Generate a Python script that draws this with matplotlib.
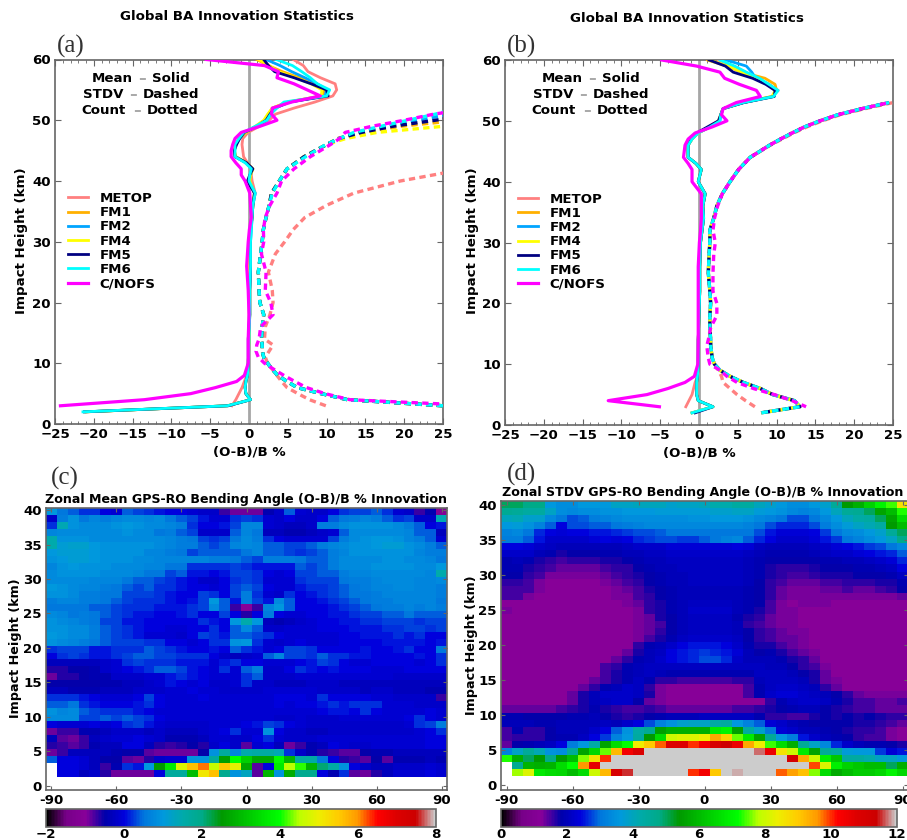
import numpy as np
import matplotlib
matplotlib.use('Agg')
import matplotlib.pyplot as plt
from matplotlib.ticker import MultipleLocator

nan = np.nan
W, H = 907, 840

names = ['METOP', 'FM1', 'FM2', 'FM4', 'FM5', 'FM6', 'C/NOFS']
colors = ['#ff8080', '#ffb000', '#00a5ff', '#ffff00', '#000080', '#00ffff', '#ff00ff']

mean_h = [2, 3, 4, 5, 6, 7, 8, 10, 14, 18, 22, 26, 30, 32, 34, 36, 38, 40, 41, 42, 43, 44, 45, 46, 47,
          48, 49, 50, 51, 52, 53, 54, 55, 56, 57, 58, 59, 60]
std_h = [2, 3, 4, 5, 6, 7, 8, 9, 10, 11, 12, 13, 14, 16, 18, 20, 22, 25, 28, 30, 32, 34, 36, 38, 40,
         42, 44, 46, 47, 48, 49, 50, 51, 52, 53]

# panel a, mean
a_metop = [nan, -2.2, -1.7, -1.3, -.9, -.6, -.3, -.1, 0, 0, 0, 0, .1, .2, .3, .5, .8, .4, .3, .3, -.2, -.7, -.8, -.9, -.8,
           -.1, 1.3, 2.6, 3.4, 5.8, 8.5, 10.8, 11.3, 11.1, 9.2, 7.6, 7.0, 5.7]
a_fm1 = [-21, -2.8, .2, -.4, -.5, -.4, -.2, -.1, 0, .1, .1, .2, .2, .2, .4, .5, .7, .1, .2, .5, -.3, -1.7, -1.9, -1.7, -1.3,
         -.4, .9, 2, 2.5, 3, 5, 9.4, 9.8, 8.5, 6.5, 4.3, 2.5, 1.0]
a_fm2 = [-21.2, -2.7, .2, -.4, -.5, -.4, -.2, -.1, 0, .1, .1, .2, .2, .3, .4, .5, .8, 0, .2, .4, -.4, -1.8, -1.9, -1.7, -1.2,
         -.5, 1, 2.3, 2.8, 3.4, 5.2, 9.8, 10, 8.8, 7.2, 5.5, 4, 2.2]
a_fm4 = [-21, -2.8, .2, -.4, -.5, -.4, -.2, -.1, 0, .1, .1, .1, .1, .2, .4, .5, .7, .1, .2, .5, -.3, -1.7, -1.9, -1.7, -1.3,
         -.4, .8, 1.9, 2.4, 3, 5, 9.3, 9.4, 8, 6, 3.8, 2.6, 1.2]
a_fm5 = [-21.2, -2.7, .2, -.4, -.5, -.4, -.2, -.1, -.1, .1, .1, .2, .2, .2, .4, .5, .7, -.2, .1, .5, -.3, -1.8, -1.9, -1.6, -1.2,
         -.6, 1, 2.2, 2.7, 3.3, 5.2, 10.2, 10, 8, 5.8, 3.3, 2.5, 1.9]
a_fm6 = [-21.4, -2.8, .2, -.4, -.5, -.4, -.2, -.1, 0, .1, .1, .2, .2, .3, .4, .5, .8, 0, .1, .3, -.5, -1.8, -1.8, -1.8, -1.3,
         -.7, .8, 2.3, 2.8, 3.6, 4.5, 10, 10.4, 8.8, 7.9, 6.8, 5.6, 3.5]
a_cnofs = [nan, -24.3, -13.5, -7.5, -4.3, -1.6, -.6, -.1, -.1, 0, -.1, -.3, -.1, .05, .3, .2, .1, -.5, -1, -1, -1.7, -2.3, -2.3, -2.1, -1.8,
           -1, 1.4, 3.6, 2.9, 3, 5.5, 9.2, 7.5, 5.8, 3.6, 3.8, 2, -5.5]

# panel a, stdv
a_s_metop = [nan, 9.9, 7.8, 6.3, 4.9, 4.2, 3.6, 3, 2.4, 2.1, 2.6, 3.1, 2, 2.1, 2.7, 3.1, 3, 2.5, 3.4, 4.6, 5.7, 7.2, 10, 13.5, 19.5,
             28, nan, nan, nan, nan, nan, nan, nan, nan, nan]
a_s_fm1 = [nan, 25, 12.7, 9.3, 6.2, 4.9, 3.7, 3, 2.4, 1.9, 1.7, 1.7, 1.6, 1.7, 1.9, 1.4, 1.3, 1.2, 1.5, 1.7, 1.85, 2.2, 2.6, 2.9, 3.9,
           4.9, 7.1, 10, 11.4, 14.3, 19.5, 27, nan, nan, nan]
a_s_fm2 = [nan, 25, 12.7, 9.3, 6.2, 4.9, 3.7, 3, 2.4, 1.9, 1.7, 1.7, 1.6, 1.7, 1.9, 1.4, 1.3, 1.2, 1.5, 1.7, 1.85, 2.2, 2.6, 2.9, 3.9,
           4.9, 7.1, 10, 11.6, 14, 17.5, 21.5, 26, nan, nan]
a_s_fm4 = [nan, 25, 12.7, 9.3, 6.2, 4.9, 3.7, 3, 2.4, 1.9, 1.7, 1.7, 1.6, 1.7, 1.9, 1.4, 1.3, 1.2, 1.5, 1.7, 1.85, 2.2, 2.6, 2.9, 3.9,
           4.9, 7.1, 10, 12.5, 16.5, 25, 30, nan, nan, nan]
a_s_fm5 = [nan, 25, 12.7, 9.3, 6.2, 4.9, 3.7, 3, 2.4, 1.9, 1.7, 1.7, 1.6, 1.7, 1.9, 1.4, 1.3, 1.2, 1.5, 1.7, 1.85, 2.2, 2.6, 2.9, 3.9,
           4.9, 7.1, 10, 11.6, 14.5, 18.5, 24, 29, nan, nan]
a_s_fm6 = [nan, 25, 12.7, 9.3, 6.2, 4.9, 3.7, 3, 2.4, 1.9, 1.7, 1.7, 1.6, 1.7, 1.9, 1.4, 1.3, 1.2, 1.5, 1.7, 1.85, 2.2, 2.6, 3, 3.9,
           4.9, 7.3, 9.9, 11.7, 13.5, 17, 20.5, 24, 27, nan]
a_s_cnofs = [nan, 30, 13, 9.8, 7.4, 5.9, 4.5, 3.2, 2, 1.2, .9, 1, 1.3, 1.5, 3.1, 2.8, 2.1, 2.2, 1.6, 1.9, 1.85, 2.1, 2.7, 3.6, 4.2,
             5.8, 7.9, 10.5, 11.7, 12.4, 15.8, 20, 23.8, 29, nan]

# panel b, mean
b_metop = [nan, -1.7, -1.3, -.9, -.7, -.5, -.2, -.1, -.1, 0, .1, .1, .2, .4, .6, .5, .8, -.1, .1, .3, -.4, -1.4, -1.4, -1.4, -.9,
           -.1, 1.2, 2.6, 2.8, 3.1, 5.7, 9.4, 10.2, 9, 7.6, 6, 4.4, 2.5]
b_fm1 = [-.9, 1.8, -.1, -.3, -.3, -.3, -.2, -.1, -.1, 0, .1, .1, .2, .4, .6, .5, .8, -.1, .1, .3, -.4, -1.4, -1.4, -1.4, -.9,
         -.1, 1.4, 2.6, 2.8, 3.1, 5.7, 9.5, 10, 9.8, 8.5, 5.5, 3.6, 1.1]
b_fm2 = [-.9, 1.8, -.1, -.3, -.3, -.3, -.2, -.1, -.1, 0, .1, .1, .2, .4, .6, .5, .8, -.1, .1, .3, -.4, -1.4, -1.4, -1.4, -.9,
         -.1, 1.4, 2.7, 2.8, 3.1, 5.7, 9.6, 10, 9, 7.3, 6.8, 6.1, 3.5]
b_fm4 = [-.9, 1.8, -.1, -.3, -.3, -.3, -.2, -.1, -.1, 0, .1, .1, .2, .4, .6, .5, .8, -.1, .1, .3, -.4, -1.4, -1.4, -1.4, -.9,
         -.1, 1.4, 2.5, 2.8, 3.1, 5.6, 9.4, 9.8, 8.8, 7.2, 5.5, 3.8, 1.3]
b_fm5 = [-.5, 1.8, -.1, -.3, -.3, -.3, -.2, -.1, -.1, 0, .1, .1, .2, .4, .6, .5, .8, -.1, .1, .3, -.4, -1.4, -1.4, -1.4, -1,
         -.3, 1.1, 2.5, 2.8, 3.1, 5.8, 9.7, 9.8, 8.6, 6.9, 4.4, 3.4, 1.3]
b_fm6 = [-.9, 1.8, -.1, -.3, -.3, -.3, -.2, -.1, -.1, 0, .1, .1, .2, .4, .6, .5, .8, -.1, .1, .3, -.4, -1.4, -1.4, -1.4, -.9,
         -.1, 1.4, 2.7, 2.8, 3.1, 5.7, 9.6, 10.2, 9, 7.8, 6.1, 4.6, 2.7]
b_cnofs = [nan, -5.1, -11.7, -6.7, -4, -1.8, -.6, -.15, -.1, -.1, -.1, -.1, .05, .2, .3, .3, .3, -.9, -.9, -.9, -1.4, -2, -1.9, -1.8, -1.4,
           -.5, 1.7, 3.6, 2.9, 3.1, 4.8, 7.9, 7.4, 5.2, 3.3, 2.7, -.3, -4.8]

# panel b, stdv (the five FM curves sit on top of each other)
b_s_metop = [nan, 7.2, 6, 4.9, 4, 3.1, 2.9, 2.5, 2, 1.7, 1.6, 1.5, 1.5, 1.4, 1.4, 1.5, 1.4, 1.2, 1.3, 1.4, 1.4, 1.9, 2.3, 3, 4,
             5.1, 6.6, 9.2, 10.7, 12.2, 13.9, 15.9, 18.2, 21.4, 25]
b_s_fm = [8, 13, 12.3, 9.5, 7.9, 5.7, 4, 2.7, 2, 1.7, 1.6, 1.5, 1.5, 1.4, 1.4, 1.5, 1.4, 1.2, 1.3, 1.4, 1.4, 1.9, 2.3, 3, 4,
          5.1, 6.6, 9.1, 10.5, 12, 13.6, 15.6, 17.9, 21, 24.5]
b_s_cnofs = [nan, 13.8, 12, 9.7, 7, 4.9, 3.6, 2.7, 1.4, 1.2, 1.1, 1, 1.2, 1.5, 2.3, 2.3, 1.8, 1.8, 1.9, 2.1, 1.8, 2, 2.4, 3, 4,
             5.1, 6.6, 9.1, 10.5, 12, 13.6, 15.6, 17.9, 21, 24.5]

lats = np.arange(-90, 95, 5)
# panel c, top row is 40 km, bottom row is 2 km
mean_rows = [
 [.9, .4, .3, .1, .1,  -.1, -.2, .3, .2, .1,  0, -.1, -.1, -.2, -.3,  -.3, -.8, -1, -1, -1,  -.5, -.3, .3, -.2, -.3,  -.3, -.1, .1, .2, .2,  .3, .1, -.2, -.3, -.8,  -.5, -1.2],
 [-.3, .5, .8, .4, .6,  .5, .6, .7, .7, .6,  .7, .4, .3, .2, 0,  -.2, -.2, .1, .2, .1,  -.2, -.3, -.1, -.3, -.3,  -.1, .3, .4, .5, .6,  .5, .3, .1, .2, -.3,  -.3, 1.3],
 [.1, 1.3, .8, .7, .7,  .7, .8, .9, .8, .7,  .7, .6, .5, .1, -.1,  -.1, 0, .2, .6, .6,  -.2, -.3, -.4, -.4, -.3,  .5, .5, .7, .8, .8,  .8, .8, .7, .5, .3,  -.1, 0],
 [.6, .7, .7, .7, .7,  .7, .7, .8, .7, .7,  .4, .5, .3, .2, -.3,  -.3, -.3, .3, .6, .4,  -.4, -.4, -.5, -.5, -.4,  -.3, -.2, .3, .7, .7,  .7, .7, .7, .6, .3,  .3, -.4],
 [1.4, .8, .8, .8, .7,  .7, .7, .7, .7, .7,  .7, .6, .5, .4, .2,  .1, .2, .4, .7, .5,  .1, -.1, -.2, -.2, -.2,  -.2, .2, .5, .7, .8,  .9, .9, .8, .6, .5,  .3, -.2],
 [1.4, 1.0, 1.1, 1.1, .9,  .8, .8, .8, .8, .8,  .7, .6, .5, .5, .3,  .2, .3, .6, .7, .6,  .3, .3, .2, .2, .3,  .5, .6, .7, .8, .8,  .9, 1.0, 1.0, .8, .7,  .5, .3],
 [.9, 1.0, 1.0, 1.0, .9,  .8, .8, .8, .8, .6,  .6, .5, .4, .2, .3,  .3, .3, .3, .4, .6,  .3, .3, .2, .1, .2,  .3, .5, .6, .8, .8,  .8, .8, .8, .8, .6,  .5, .5],
 [.8, .9, 1.0, 1.0, .9,  .8, .8, .8, .7, .7,  .6, .6, .6, .6, .6,  .5, .5, .4, .3, .2,  .5, .5, .5, .4, .3,  .3, .5, .7, .7, .7,  .7, .8, .8, .7, .7,  .6, .4],
 [.6, .8, .9, .8, .8,  .8, .7, .7, .7, .6,  .6, .4, .4, .1, .1,  .1, .1, .2, .1, 0,  0, 0, 0, .3, .2,  .3, .5, .7, .7, .7,  .8, .8, .8, .8, .7,  .7, .9],
 [.7, .8, .8, .8, .8,  .7, .7, .7, .6, .4,  .4, .2, .3, 0, 0,  -.1, 0, .2, .2, .1,  -.1, -.2, -.1, .2, .2,  .3, .3, .5, .6, .6,  .7, .7, .7, .7, .7,  .6, 1.4],
 [.7, .7, .7, .7, .6,  .6, .6, .4, .3, .3,  .2, .1, 0, -.1, -.3,  -.3, -.1, .1, .2, .1,  -.2, -.2, -.2, .1, .2,  .2, .2, .4, .5, .5,  .6, .7, .7, .7, .6,  .6, .7],
 [.9, .8, .7, .6, .6,  .5, .4, .3, .2, .3,  .1, .1, 0, -.1, -.1,  -.2, -.1, .2, .3, .2,  -.1, -.2, -.2, 0, .1,  .1, .2, .3, .4, .5,  .6, .6, .7, .7, .6,  .6, .5],
 [.8, .8, .7, .5, .5,  .4, .4, .2, .2, .2,  .1, 0, -.1, -.1, .2,  .1, -.1, .2, .5, .1,  -.2, -.3, .1, -.1, 0,  .1, .2, .3, .4, .4,  .5, .6, .6, .6, .6,  .6, .5],
 [.5, .6, .6, .5, .5,  .4, .3, .2, .1, .1,  .1, 0, -.1, 0, .2,  .9, .3, 0, .5, .2,  0, .7, .3, -.1, -.1,  0, .1, .2, .3, .4,  .5, .5, .6, .6, .6,  .6, .4],
 [.4, .4, .4, .4, .3,  .3, .2, .1, .1, .1,  0, 0, 0, .1, .2,  .7, .3, -.8, -1.1, -.8,  .6, .9, .3, -.1, -.1,  -.1, 0, .1, .2, .3,  .4, .5, .5, .6, .5,  .6, .5],
 [.7, .6, .4, .5, .4,  .3, .2, .1, 0, 0,  -.1, -.1, 0, .1, -.1,  -.1, .2, -.1, -.7, -.1,  .5, -.1, -.2, -.2, -.1,  -.1, 0, 0, .1, .2,  .2, .3, .3, .4, .3,  .3, .3],
 [.8, .7, .6, .5, .4,  .2, .2, 0, 0, -.1,  -.1, -.1, -.1, -.1, .1,  0, -.1, .9, 1.4, .9,  -.4, -.5, -.4, -.3, -.2,  -.1, -.1, 0, 0, .1,  .1, .2, .2, .2, .1,  .2, .2],
 [.8, .8, .7, .7, .5,  .3, .2, .1, 0, -.1,  -.1, -.2, -.2, -.1, -.1,  .1, -.1, .3, .7, .3,  -.3, -.3, -.2, -.2, -.2,  -.1, -.1, -.1, 0, 0,  0, .1, .1, .2, .2,  .1, .2],
 [.9, .8, .7, .7, .5,  .3, .2, .1, 0, -.2,  -.2, -.2, -.3, -.1, .2,  .1, 0, .3, .3, .2,  .1, -.1, -.2, -.2, -.2,  -.2, -.2, -.1, -.1, 0,  0, 0, .1, 0, .1,  -.1, -.1],
 [.8, .7, .6, .5, .4,  .3, .2, .2, .2, .1,  .1, -.1, -.1, -.2, -.1,  .1, .1, .8, .9, .1,  -.2, -.3, -.2, -.1, -.2,  -.2, -.2, -.1, -.1, -.1,  -.1, 0, 0, 0, 0,  -.1, 0],
 [.1, .2, .2, .2, 0,  0, .1, .1, .1, .3,  .2, .1, 0, -.1, -.1,  0, -.1, .3, .1, 0,  -.2, -.1, .2, .2, .1,  -.1, -.1, -.1, -.1, 0,  -.1, -.1, 0, .1, -.1,  -.1, .4],
 [-.1, .1, .2, .1, 0,  0, .1, .2, .3, .3,  .2, .2, .1, .1, .1,  -.1, -.3, -.4, -.3, -.2,  .3, .6, .2, .2, .1,  .3, .1, .1, 0, 0,  -.1, -.1, -.1, -.1, 0,  -.1, .1],
 [-.4, -.4, -.4, -.4, -.4,  -.3, -.2, .1, .2, .1,  .1, .1, 0, 0, 0,  -.2, 0, .1, -.1, -.1,  -.2, -.2, -.2, -.1, 0,  .2, .1, -.1, -.2, -.2,  -.1, -.1, -.1, -.1, -.2,  -.1, .1],
 [-.7, -.7, -.6, -.6, -.5,  -.3, -.2, -.1, 0, .1,  .3, .3, .2, 0, -.1,  -.2, .1, -.2, .3, .5,  -.3, -.3, -.1, .1, 0,  -.1, 0, -.1, -.1, -.1,  -.2, -.2, -.2, -.1, -.1,  -.1, -.1],
 [-1, -.7, -.7, -.6, -.5,  -.5, -.3, -.3, -.3, -.2,  -.2, 0, .1, 0, -.1,  -.2, -.2, -.2, .1, .3,  -.3, -.3, -.3, -.2, -.2,  -.2, -.2, -.2, -.2, -.2,  -.2, -.2, -.3, -.3, -.3,  -.3, -.3],
 [-.6, -.6, -.6, -.6, -.6,  -.5, -.5, -.4, -.4, -.3,  -.2, 0, -.1, -.2, -.1,  -.3, -.3, -.2, .1, -.3,  -.3, -.4, -.4, -.4, -.3,  -.3, -.3, -.4, -.4, -.4,  -.4, -.4, -.4, -.4, -.4,  -.4, -.4],
 [-.4, -.4, -.5, -.5, -.5,  -.4, -.4, -.4, -.3, -.3,  -.3, -.2, -.2, -.1, -.2,  -.2, -.3, -.3, -.3, -.3,  -.2, -.2, -.2, -.2, -.2,  -.3, -.3, -.3, -.3, -.4,  -.3, -.3, -.4, -.4, -.4,  -.5, -.5],
 [.1, .1, .1, 0, -.1,  -.2, -.2, -.2, -.1, .2,  -.1, -.2, -.2, -.2, -.1,  -.2, -.2, -.2, -.2, -.2,  -.2, -.1, -.1, -.1, -.2,  .1, -.1, -.1, -.1, -.1,  -.2, -.2, -.3, -.3, -.3,  -.3, -.8],
 [.3, .3, .4, .1, 0,  -.1, -.1, -.1, 0, .1,  -.1, -.2, -.2, -.2, -.2,  -.2, -.2, -.2, -.2, -.2,  -.2, -.1, -.2, -.1, -.1,  0, .1, 0, .1, .1,  .1, -.2, -.2, -.2, -.3,  -.3, -.3],
 [.8, .6, .7, .3, .2,  .1, .1, .1, 0, -.1,  -.2, -.2, -.2, -.2, -.2,  -.2, -.2, -.2, -.2, -.2,  -.2, -.2, -.2, -.2, -.2,  -.1, 0, 0, -.1, .1,  -.1, -.2, -.2, -.2, -.2,  -.1, -.2],
 [.7, .7, .7, .2, .2,  .3, .2, .3, .2, .1,  -.1, -.2, -.2, -.2, -.2,  -.2, -.2, -.2, -.2, -.2,  -.2, -.3, -.3, -.2, -.3,  -.3, -.3, -.2, -.2, -.2,  -.2, -.2, -.2, -.1, .1,  -.1, -.2],
 [-.1, -.2, -.2, -.2, -.1,  -.2, -.1, .1, .2, 0,  -.2, -.3, -.3, -.3, -.3,  -.2, -.2, -.2, -.1, 0,  .2, .1, -.1, -.2, -.3,  -.3, -.3, -.3, -.3, -.3,  -.3, -.3, -.3, -.2, .1,  .2, .5],
 [-1, -.8, -.8, -.5, -.5,  -.4, -.3, -.3, -.3, -.4,  -.3, -.4, -.4, -.4, -.3,  -.2, -.1, .1, -.2, -.2,  .8, -.1, -.3, -.3, -.4,  -.4, -.3, -.3, -.3, -.3,  -.3, -.3, -.3, -.3, -.2,  -.1, .1],
 [-.4, -.9, -1, -.8, -.4,  -.3, -.2, -.2, -.1, -.2,  -.3, -.5, -.5, -.5, -.4,  -.2, -.2, -.3, -.3, -.1,  .1, -.2, -.3, -.3, -.3,  -.2, -.2, -.2, -.2, -.2,  -.2, -.2, -.2, -.2, -.2,  -.1, -.1],
 [-.7, -.8, -.9, -.8, -.5,  -.4, -.4, -.1, -.1, -.4,  -.7, -.8, -.7, -.6, -.7,  -.3, -.1, -.3, -.9, -.2,  -.1, -.4, -1, -.8, -.5,  -.4, -.1, -.2, -.3, -.3,  -.2, -.2, -.2, -.2, -.2,  -.1, -.1],
 [-1, -.8, -.4, -.4, -.4,  -.4, -.5, -.6, -.6, -.9,  -1, -1, -1, -1, -.6,  .8, 1.6, .6, 1.4, 1.5,  1.5, 1.3, .1, -.3, -.5,  -.7, -.8, -.9, -.9, -.6,  -.5, -.5, -.4, -.4, -.4,  -.4, -.4],
 [.3, -.1, -.1, -.2, -.4,  -.6, -.6, -.9, -1, -.7,  -.3, -.2, -.2, .8, .8,  1.6, 2.5, 3.9, 3.2, 2.6,  2.6, 3.8, 2.8, 1.5, 1.5,  .4, -.1, -.7, -.8, -.9,  -.6, -.9, -.5, -.5, -.5,  -.4, -.5],
 [nan, -.1, -.1, -.2, -.4,  -.8, -.5, .1, 0, .9,  2.4, 3.6, 4.7, 5.5, 6,  4.5, 5.4, 4.8, 2.6, -.9,  -.1, 3.6, 4.4, 4, 2.8,  2, 1.5, .8, -.1, -.3,  -.4, -.4, -.3, -.3, -.3,  -.2, -.3],
 [nan, -.1, -.1, -.4, -.3,  -.7, -1, -1, -1, -1,  -.1, 1.6, 1.6, 2.9, 5,  5.5, 1.8, .8, 1.2, -.9,  2.8, .8, 2.7, 1.8, 1.8,  -.1, -.5, .1, -.9, -1,  -.7, -.4, -.2, -.2, -.2,  -.1, -.2],
]

# panel d, top row is 40 km, bottom row is 2 km
stdv_rows = [
 [5, 5, 4.8, 4.8, 3.6,  3.4, 3.4, 3.6, 3.6, 3.6,  3.9, 3.9, 4, 4, 4,  3.8, 3.9, 3.9, 4, 4.2,  4.2, 4.4, 4.4, 4, 3.8,  3.6, 3.4, 3.4, 3.6, 3.8,  4.5, 5.4, 5.8, 6.4, 7,  7.4, 8.6],
 [4.6, 4.5, 4.4, 4.4, 3.9,  3.4, 3.3, 3.4, 3.4, 3.5,  3.5, 3.6, 3.6, 3.6, 3.7,  3.7, 3.7, 3.7, 3.7, 3.8,  3.8, 3.9, 3.9, 3.7, 3.6,  3.5, 3.3, 3.2, 3.3, 3.6,  4, 4.5, 4.6, 5, 5.6,  6, 7.3],
 [4, 4.1, 3.8, 3.8, 3.3,  3, 2.8, 2.9, 3.1, 3.2,  3.3, 3.4, 3.4, 3.4, 3.4,  3.4, 3.4, 3.5, 3.5, 3.6,  3.6, 3.6, 3.5, 3.3, 3.2,  3, 2.8, 2.8, 3, 3.3,  3.6, 4, 4.3, 4.4, 5,  5.6, 6.6],
 [3.6, 3.7, 3.5, 3.2, 2.9,  2.4, 2.8, 2.8, 2.9, 2.9,  3, 3.1, 3.2, 3.3, 3.3,  3.3, 3.3, 3.3, 3.3, 3.3,  3.3, 3.3, 3.2, 3, 2.8,  2.6, 2.6, 2.6, 2.8, 3.1,  3.4, 3.7, 3.9, 4.1, 4.4,  5.4, 6],
 [3.2, 3.3, 3, 2.6, 2.4,  2.3, 2.4, 2.4, 2.5, 2.5,  2.6, 2.7, 2.8, 2.8, 2.9,  3, 3, 3, 3, 3,  3, 3, 3, 2.8, 2.5,  2.3, 2.3, 2.3, 2.4, 2.7,  3, 3.3, 3.4, 3.6, 3.8,  4.5, 5],
 [3.1, 3.1, 2.9, 2.5, 2.2,  2.2, 2.2, 2.2, 2.3, 2.4,  2.3, 2.4, 2.6, 2.7, 2.8,  2.8, 2.7, 2.7, 2.9, 3,  3.2, 3.3, 2.9, 2.6, 2.4,  2.2, 2.2, 2.2, 2.3, 2.5,  2.7, 3, 3.2, 3.4, 3.6,  3.9, 4.7],
 [2.4, 2.4, 2.3, 2.2, 2.1,  2, 2, 2, 2, 2,  2, 2.1, 2.2, 2.2, 2.2,  2.3, 2.3, 2.3, 2.3, 2.3,  2.3, 2.4, 2.3, 2.1, 2,  2, 2, 2, 2.1, 2.2,  2.3, 2.4, 2.5, 2.7, 2.8,  3, 3.3],
 [2.2, 2.2, 2.2, 2, 1.9,  1.7, 1.8, 1.8, 1.8, 1.9,  1.9, 2, 2, 2.1, 2.1,  2.2, 2.2, 2.2, 2.2, 2.2,  2.2, 2.2, 2.1, 2, 1.9,  1.9, 1.9, 1.9, 2, 2.1,  2.2, 2.2, 2.3, 2.4, 2.5,  2.6, 2.9],
 [1.9, 2, 1.9, 1.7, 1.6,  1.5, 1.6, 1.6, 1.6, 1.7,  1.7, 1.8, 1.9, 2, 2,  2.1, 2.1, 2.1, 2.1, 2.1,  2.1, 2.1, 2, 1.9, 1.8,  1.8, 1.8, 1.8, 1.8, 1.9,  1.9, 2, 2, 2.1, 2.2,  2.3, 2.6],
 [1.9, 1.9, 1.7, 1.6, 1.5,  1.4, 1.4, 1.4, 1.4, 1.5,  1.6, 1.6, 1.8, 1.9, 2,  2, 2.1, 2.1, 2.1, 2.1,  2.1, 2.1, 2, 1.9, 1.7,  1.6, 1.6, 1.6, 1.7, 1.8,  1.8, 1.8, 1.9, 1.9, 2,  2.1, 2.4],
 [1.8, 1.8, 1.6, 1.5, 1.3,  1.3, 1.3, 1.3, 1.3, 1.4,  1.5, 1.6, 1.7, 1.8, 1.9,  2, 2, 2.1, 2.1, 2.1,  2.1, 2.1, 2, 1.9, 1.7,  1.6, 1.5, 1.5, 1.6, 1.7,  1.7, 1.7, 1.8, 1.8, 1.8,  1.9, 2.1],
 [1.6, 1.6, 1.5, 1.3, 1.2,  1.2, 1.2, 1.2, 1.2, 1.3,  1.4, 1.5, 1.6, 1.8, 1.9,  2, 2, 2.1, 2.1, 2.1,  2.1, 2.1, 2, 1.8, 1.6,  1.5, 1.4, 1.4, 1.4, 1.5,  1.5, 1.6, 1.6, 1.6, 1.7,  1.7, 1.9],
 [1.5, 1.5, 1.5, 1.3, 1.2,  1.2, 1.2, 1.2, 1.2, 1.2,  1.3, 1.4, 1.5, 1.7, 1.8,  1.9, 2, 2, 2, 2,  2, 2, 1.9, 1.8, 1.6,  1.4, 1.3, 1.3, 1.3, 1.4,  1.4, 1.5, 1.4, 1.4, 1.5,  1.6, 1.8],
 [1.5, 1.5, 1.3, 1.2, 1.2,  1.2, 1.2, 1.2, 1.2, 1.2,  1.3, 1.3, 1.5, 1.6, 1.8,  1.9, 2, 2, 2, 2,  2, 2, 1.9, 1.8, 1.6,  1.4, 1.3, 1.3, 1.3, 1.3,  1.3, 1.3, 1.3, 1.3, 1.3,  1.3, 1.4],
 [1.2, 1.2, 1.2, 1.2, 1.2,  1.2, 1.2, 1.2, 1.2, 1.2,  1.2, 1.3, 1.4, 1.6, 1.7,  1.9, 2, 2.1, 2.1, 2.1,  2.1, 2, 1.9, 1.8, 1.5,  1.3, 1.2, 1.3, 1.3, 1.3,  1.2, 1.2, 1.2, 1.2, 1.2,  1.2, 1.2],
 [1.3, 1.2, 1.2, 1.2, 1.2,  1.2, 1.2, 1.2, 1.2, 1.2,  1.2, 1.2, 1.3, 1.6, 1.7,  1.9, 2, 2.2, 2.2, 2.2,  2.2, 2, 1.9, 1.7, 1.5,  1.3, 1.3, 1.2, 1.2, 1.2,  1.2, 1.2, 1.2, 1.2, 1.2,  1.2, 1.2],
 [1.2, 1.2, 1.2, 1.2, 1.2,  1.2, 1.2, 1.2, 1.2, 1.2,  1.2, 1.2, 1.3, 1.4, 1.7,  1.8, 2, 2.1, 2.1, 2.1,  2.1, 1.9, 1.7, 1.6, 1.4,  1.3, 1.3, 1.2, 1.2, 1.2,  1.2, 1.2, 1.2, 1.2, 1.2,  1.2, 1.2],
 [1.2, 1.2, 1.2, 1.2, 1.2,  1.2, 1.2, 1.2, 1.2, 1.2,  1.2, 1.2, 1.3, 1.4, 1.5,  1.8, 2, 2.1, 2.1, 2.1,  2.1, 2, 1.6, 1.5, 1.4,  1.3, 1.3, 1.2, 1.2, 1.2,  1.2, 1.2, 1.2, 1.2, 1.2,  1.2, 1.2],
 [1.2, 1.2, 1.2, 1.2, 1.2,  1.2, 1.2, 1.2, 1.2, 1.2,  1.2, 1.2, 1.3, 1.4, 1.6,  1.8, 2, 2.1, 2.1, 2.1,  2.1, 2, 1.8, 1.6, 1.5,  1.4, 1.3, 1.3, 1.2, 1.2,  1.2, 1.2, 1.2, 1.2, 1.2,  1.2, 1.2],
 [1.2, 1.2, 1.2, 1.2, 1.2,  1.2, 1.2, 1.2, 1.2, 1.2,  1.2, 1.2, 1.3, 1.5, 1.7,  1.9, 2.1, 2.2, 2.2, 2.2,  2.2, 2.1, 1.8, 1.6, 1.5,  1.4, 1.4, 1.3, 1.2, 1.2,  1.2, 1.2, 1.2, 1.2, 1.2,  1.2, 1.2],
 [1.2, 1.2, 1.2, 1.2, 1.2,  1.2, 1.2, 1.2, 1.2, 1.2,  1.2, 1.2, 1.6, 1.9, 2,  2.2, 2.4, 2.5, 2.5, 2.5,  2.4, 2.2, 1.9, 1.7, 1.7,  1.5, 1.4, 1.3, 1.2, 1.2,  1.2, 1.2, 1.2, 1.2, 1.2,  1.2, 1.2],
 [1.2, 1.2, 1.2, 1.2, 1.2,  1.2, 1.2, 1.2, 1.2, 1.2,  1.2, 1.4, 1.7, 2, 2.1,  2.4, 2.5, 2.6, 2.7, 2.6,  2.5, 2.3, 2, 1.8, 1.9,  1.7, 1.5, 1.4, 1.3, 1.2,  1.2, 1.2, 1.2, 1.2, 1.2,  1.2, 1.2],
 [1.2, 1.2, 1.2, 1.2, 1.2,  1.2, 1.2, 1.2, 1.2, 1.2,  1.4, 1.6, 1.9, 2, 2.2,  2.4, 2.5, 2.6, 2.8, 2.8,  2.6, 2.2, 2, 2, 2,  1.9, 1.7, 1.6, 1.4, 1.2,  1.2, 1.2, 1.2, 1.2, 1.2,  1.2, 1.2],
 [1.2, 1.2, 1.2, 1.2, 1.2,  1.2, 1.2, 1.2, 1.2, 1.5,  1.6, 1.9, 2, 2.1, 2.1,  2.1, 2.1, 2.1, 2.1, 2.1,  2.1, 2.1, 2.1, 2.1, 2,  2, 1.8, 1.6, 1.5, 1.3,  1.2, 1.2, 1.2, 1.2, 1.2,  1.2, 1.2],
 [1.2, 1.2, 1.2, 1.2, 1.2,  1.2, 1.2, 1.2, 1.2, 1.5,  1.7, 1.9, 2, 2.1, 2,  1.9, 1.9, 1.9, 1.9, 1.9,  1.9, 1.9, 1.9, 2.1, 2.1,  2.1, 2, 1.8, 1.7, 1.4,  1.2, 1.2, 1.2, 1.2, 1.2,  1.2, 1.2],
 [1.2, 1.2, 1.2, 1.2, 1.2,  1.2, 1.2, 1.2, 1.4, 1.5,  1.7, 1.9, 2.1, 1.9, 1.6,  1.6, 1.5, 1.5, 1.5, 1.5,  1.5, 1.6, 1.6, 2, 2.1,  2.1, 2.1, 2, 1.7, 1.4,  1.3, 1.2, 1.2, 1.2, 1.2,  1.2, 1.2],
 [1.2, 1.2, 1.2, 1.2, 1.2,  1.2, 1.2, 1.4, 1.6, 1.9,  2, 2.2, 2.1, 1.6, 1.3,  1.2, 1.2, 1.2, 1.2, 1.2,  1.2, 1.2, 1.5, 1.9, 2.1,  2.2, 2.2, 2.1, 2, 1.6,  1.4, 1.2, 1.2, 1.2, 1.2,  1.2, 1.2],
 [1.2, 1.2, 1.2, 1.2, 1.2,  1.2, 1.4, 1.7, 2, 2.2,  2.2, 2.2, 2.1, 1.7, 1.3,  1.2, 1.2, 1.2, 1.2, 1.2,  1.2, 1.2, 1.5, 1.9, 2.2,  2.3, 2.3, 2.2, 2.1, 2,  1.8, 1.6, 1.4, 1.3, 1.3,  1.3, 1.3],
 [1.2, 1.2, 1.2, 1.2, 1.2,  1.2, 1.4, 1.7, 2, 2.1,  2.2, 2.2, 1.8, 1.4, 1.3,  1.2, 1.2, 1.2, 1.2, 1.2,  1.2, 1.2, 1.2, 1.2, 1.6,  1.9, 2.1, 2.2, 2.2, 2.1,  1.9, 1.7, 1.5, 1.5, 1.4,  1.4, 1.5],
 [1.4, 1.4, 1.4, 1.4, 1.4,  1.5, 1.6, 1.7, 1.9, 1.7,  1.6, 1.5, 1.5, 1.6, 1.5,  1.4, 1.4, 1.4, 1.4, 1.4,  1.4, 1.5, 1.5, 1.6, 1.7,  1.8, 1.9, 2, 2, 1.8,  1.7, 1.6, 1.5, 1.5, 1.4,  1.4, 1.4],
 [1.9, 1.9, 1.8, 1.8, 1.8,  1.8, 1.9, 1.9, 2, 1.8,  1.7, 1.6, 1.7, 1.8, 1.9,  2, 2, 2, 2.1, 2.1,  2.1, 2.1, 2.1, 1.9, 1.6,  1.6, 1.5, 1.5, 1.7, 1.8,  1.7, 1.8, 1.7, 1.8, 1.7,  1.6, 1.6],
 [2, 2, 2, 1.9, 1.9,  2, 2, 2, 2, 2.1,  2, 2.2, 2.4, 2.8, 3.2,  3.5, 3.8, 3.9, 3.9, 4.3,  4.4, 3.6, 3.2, 2.9, 2.3,  2.2, 2, 1.9, 1.8, 1.8,  1.8, 1.8, 1.7, 1.7, 1.6,  1.5, 1.4],
 [1.5, 1.9, 1.6, 1.6, 1.8,  2, 2, 2, 2.2, 2.4,  2.9, 3.5, 4.3, 4.6, 5.5,  5.8, 5.8, 5.8, 5.8, 6.8,  7, 5.5, 4.4, 3.8, 3,  2.3, 2.2, 2, 2, 1.9,  1.8, 1.7, 1.6, 1.6, 1.5,  1.3, 1.2],
 [1.5, 1.6, 1.6, 1.6, 1.8,  1.9, 1.9, 2.1, 2.4, 2.7,  3.2, 3.6, 4.4, 5.4, 6.6,  8, 8.2, 8.2, 8.4, 9.4,  8.9, 7.5, 6.8, 5.6, 4.5,  3.6, 3.1, 2.5, 2.2, 2,  1.9, 1.8, 1.6, 1.5, 1.5,  1.3, 1.2],
 [1.4, 1.8, 1.9, 2, 2.1,  2.4, 3.1, 3.6, 4.3, 5.6,  6.6, 7.2, 8.4, 9, 9.8,  10.8, 10.8, 10, 10.4, 11,  11.3, 10.5, 9.4, 8.4, 7.4,  6.6, 5.8, 4.5, 3.9, 3.3,  2.6, 2.2, 2, 1.9, 1.9,  1.8, 1.7],
 [3.2, 3.9, 4.5, 4.1, 3.5,  3.4, 4.5, 5.6, 6.5, 7.5,  9.2, 10.4, 10.9, 12, 12,  12, 12, 12, 12, 12,  12, 12, 12, 11.7, 10.5,  8.6, 8, 6.8, 5.6, 4.5,  4.4, 3.7, 3.6, 3.6, 2.7,  2.3, 2.5],
 [7.3, 5.8, 5, 5.4, 4.8,  5.4, 6, 7.6, 8.6, 10,  12, 12, 12, 12, 12,  12, 12, 12, 12, 12,  12, 12, 12, 12, 12,  12, 11.1, 9.4, 8, 6.9,  6.2, 4.4, 4.4, 4.2, 3.9,  3.9, 3.6],
 [nan, 4.6, 5.9, 5.8, 5.9,  6.6, 7.2, 9.6, 10.6, 12,  12, 12, 12, 12, 12,  12, 12, 12, 12, 12,  12, 12, 12, 12, 12,  12, 12, 12, 9.9, 8.2,  6.9, 6.4, 6.2, 6, 6,  5, 5.8],
 [nan, 7.7, 8.2, 6.8, 6.6,  6.5, 6, 6.6, 8, 9.2,  11, 11.5, 12, 12, 12,  12, 12, 10, 10.4, 9,  12, 11.9, 12, 12, 12,  9.8, 9.5, 9.1, 7.6, 6.6,  5.7, 6, 6.3, 6.3, 6.5,  7, 6.5],
]

plt.rcParams['font.family'] = 'DejaVu Sans'
plt.rcParams['font.weight'] = 'bold'
plt.rcParams['axes.labelweight'] = 'bold'
plt.rcParams['font.size'] = 9.6
plt.rcParams['axes.edgecolor'] = '#666666'
plt.rcParams['axes.linewidth'] = 1.2


def px_axes(fig, left, top, right, bottom):
    return fig.add_axes([left / W, 1 - bottom / H, (right - left) / W, (bottom - top) / H])


def px_text(fig, x, y, s, **kw):
    kw.setdefault('ha', 'center')
    kw.setdefault('va', 'center')
    fig.text(x / W, 1 - y / H, s, **kw)


def profile_panel(fig, box, means, stds, dx, phase):
    ax = px_axes(fig, *box)
    ax.axvline(0, color='#a6a6a6', lw=2)
    for i, (m, c, n) in enumerate(zip(means, colors, names)):
        ax.plot(m, mean_h, color=c, lw=2.3 if n == 'C/NOFS' else 2, label=n, zorder=3 + i)
    for i, (s, c) in enumerate(zip(stds, colors)):
        ax.plot(s, std_h, color=c, lw=2.4, ls=(i * phase, (1.9, 1.3)), zorder=3 + i)
    ax.set_xlim(-25, 25)
    ax.set_ylim(0, 60)
    ax.xaxis.set_major_locator(MultipleLocator(5))
    ax.xaxis.set_minor_locator(MultipleLocator(1))
    ax.yaxis.set_major_locator(MultipleLocator(10))
    ax.tick_params(which='both', direction='in', top=True, right=True, color='#666666')
    ax.tick_params(which='major', length=4, pad=3)
    ax.tick_params(which='minor', length=2)
    ax.legend(loc='upper left', bbox_to_anchor=((61 + dx - box[0]) / (box[2] - box[0]), (424 - 185) / 365),
              frameon=False, handlelength=1.55, handletextpad=0.85, labelspacing=0.09, borderpad=0, fontsize=9.6)
    rows = [('Mean', 'Solid', 112, 171, 142), ('STDV', 'Dashed', 103, 171, 133), ('Count', 'Dotted', 103, 173, 137)]
    for row, y in zip(rows, [78, 94, 110]):
        px_text(fig, row[2] + dx, y, row[0])
        px_text(fig, row[3] + dx, y, row[1])
        px_text(fig, row[4] + dx, y, '–', color='#aaaaaa', fontsize=11)
    return ax


def zonal_panel(fig, box, cbox, rows, vmin, vmax, cticks, title, edges, ylim, bias=0):
    ax = px_axes(fig, *box)
    grid = np.array(rows, dtype=float)[::-1] + bias
    lat_edges = np.append(lats - 2.5, 92.5)
    mesh = ax.pcolormesh(lat_edges, edges, grid, cmap='nipy_spectral', vmin=vmin, vmax=vmax)
    ax.set_xlim(-92.5, 92.5)
    ax.set_ylim(*ylim)
    ax.set_xticks(np.arange(-90, 91, 30))
    ax.set_xticklabels(['-90', '-60', '-30', '0', '30', '60', '90'])
    ax.set_yticks(np.arange(0, 41, 5))
    ax.tick_params(direction='in', top=True, right=True, length=3, pad=3, color='#666666')
    cax = px_axes(fig, *cbox)
    cb = fig.colorbar(mesh, cax=cax, orientation='horizontal', ticks=cticks)
    cb.ax.tick_params(length=0, pad=0.5)
    cb.outline.set_edgecolor('#666666')
    px_text(fig, (box[0] + box[2]) / 2 if box[2] < W else 703, box[1] - 8.5, title, fontsize=9.05)
    return ax


fig = plt.figure(figsize=(W / 100, H / 100), dpi=100)

ax_a = profile_panel(fig, (55, 59.5, 443, 424),
                     [a_metop, a_fm1, a_fm2, a_fm4, a_fm5, a_fm6, a_cnofs],
                     [a_s_metop, a_s_fm1, a_s_fm2, a_s_fm4, a_s_fm5, a_s_fm6, a_s_cnofs], 0, 0.0)
ax_b = profile_panel(fig, (505, 60, 893, 425),
                     [b_metop, b_fm1, b_fm2, b_fm4, b_fm5, b_fm6, b_cnofs],
                     [b_s_metop, b_s_fm, b_s_fm, b_s_fm, b_s_fm, b_s_fm, b_s_cnofs], 450, 0.6)

px_text(fig, 237, 17, 'Global BA Innovation Statistics')
px_text(fig, 687, 18, 'Global BA Innovation Statistics')
px_text(fig, 249, 452, '(O-B)/B %')
px_text(fig, 699, 453, '(O-B)/B %')
px_text(fig, 22, 241, 'Impact Height (km)', rotation=90)
px_text(fig, 472, 241, 'Impact Height (km)', rotation=90)

# my colour readings for panel c ran a touch dark, hence the small bias
zonal_panel(fig, (46, 508, 447, 790), (46, 809, 436, 827), mean_rows, -2, 8, [-2, 0, 2, 4, 6, 8],
            'Zonal Mean GPS-RO Bending Angle (O-B)/B % Innovation', np.linspace(1.35, 40.3, 40), (-0.6, 40.3), bias=0.1)
zonal_panel(fig, (501, 501, 908, 790), (501, 809, 897, 827), stdv_rows, 0, 12, [0, 2, 4, 6, 8, 10, 12],
            'Zonal STDV GPS-RO Bending Angle (O-B)/B % Innovation', np.linspace(1.3, 40.6, 40), (-0.7, 40.6))

px_text(fig, 16, 648, 'Impact Height (km)', rotation=90, fontsize=9.2)
px_text(fig, 471, 645, 'Impact Height (km)', rotation=90, fontsize=9.2)

for x, y, s in [(70.5, 46, '(a)'), (522, 46, '(b)'), (64.5, 478, '(c)'), (522, 474, '(d)')]:
    px_text(fig, x, y, s, family='Liberation Serif', weight='normal', fontsize=18, color='#333333')

fig.savefig('out.png', dpi=100)
